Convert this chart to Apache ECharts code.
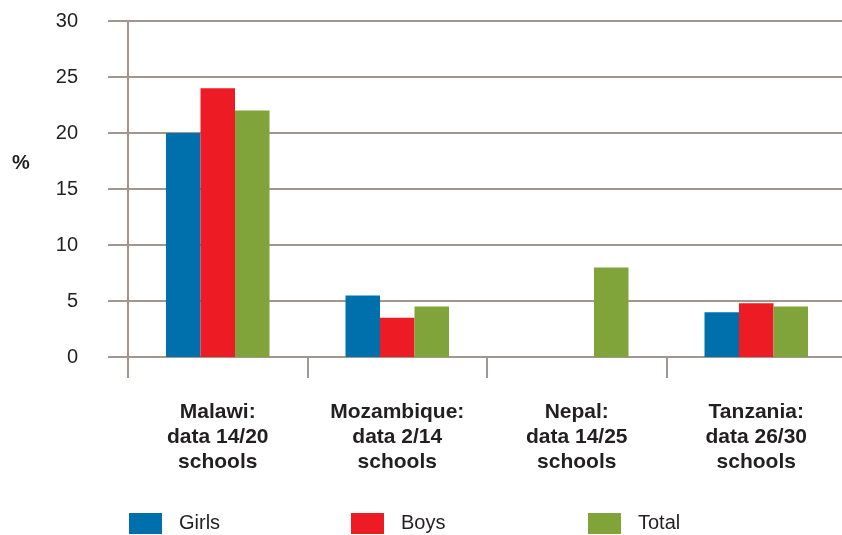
<!DOCTYPE html>
<html>
<head>
<meta charset="utf-8">
<script src="https://cdn.jsdelivr.net/npm/echarts@6/dist/echarts.min.js"></script>
<style>html,body{margin:0;padding:0;background:#fff}#c{width:842px;height:535px}</style>
</head>
<body>
<div id="c"></div>
<script>
const categories = ["Malawi:\ndata 14/20\nschools", "Mozambique:\ndata 2/14\nschools", "Nepal:\ndata 14/25\nschools", "Tanzania:\ndata 26/30\nschools"];
const girls = [20, 5.5, null, 4.0];
const boys = [24, 3.5, null, 4.8];
const total = [22, 4.5, 8.0, 4.5];
const seriesNames = ["Girls", "Boys", "Total"];

const gridColor = '#a3968e';
const textColor = '#231f20';
const font = '"Liberation Sans", Arial, Helvetica, sans-serif';
const chart = echarts.init(document.getElementById('c'), null, {renderer: 'canvas'});

function legendAt(name, left) {
  return {
    data: [name], left: left, top: 508, itemWidth: 33, itemHeight: 21,
    icon: 'rect', selectedMode: false,
    textStyle: {color: textColor, fontSize: 20, fontFamily: font, padding: [0, 0, 0, 12]}
  };
}

chart.setOption({
  animation: false,
  color: ['#0070ad', '#ed1c24', '#80a33a'],
  textStyle: {fontFamily: font},
  grid: {left: 128, top: 21, right: -4, bottom: 178, containLabel: false, outerBoundsMode: 'none'},
  legend: [legendAt(seriesNames[0], 124), legendAt(seriesNames[1], 346), legendAt(seriesNames[2], 583)],
  graphic: [{type: 'text', left: 12, top: 153, style: {text: '%', fill: textColor, font: 'bold 20px ' + font}}],
  xAxis: {
    type: 'category', data: categories, boundaryGap: true,
    axisLine: {show: true, lineStyle: {color: gridColor, width: 2}},
    axisTick: {show: true, length: 21, interval: 0, lineStyle: {color: gridColor, width: 2}},
    axisLabel: {interval: 0, margin: 43, color: textColor, fontSize: 21, fontWeight: 'bold', lineHeight: 25, fontFamily: font}
  },
  yAxis: {
    type: 'value', min: 0, max: 30, interval: 5,
    axisLine: {show: true, lineStyle: {color: gridColor, width: 2}},
    axisTick: {show: true, length: 20, lineStyle: {color: gridColor, width: 2}},
    splitLine: {show: true, lineStyle: {color: gridColor, width: 2}},
    axisLabel: {margin: 50, color: textColor, fontSize: 20, fontFamily: font}
  },
  series: [
    {name: seriesNames[0], type: 'bar', data: girls, barWidth: 34.5, barGap: '0%'},
    {name: seriesNames[1], type: 'bar', data: boys, barWidth: 34.5, barGap: '0%'},
    {name: seriesNames[2], type: 'bar', data: total, barWidth: 34.5, barGap: '0%'}
  ]
});
</script>
</body>
</html>
